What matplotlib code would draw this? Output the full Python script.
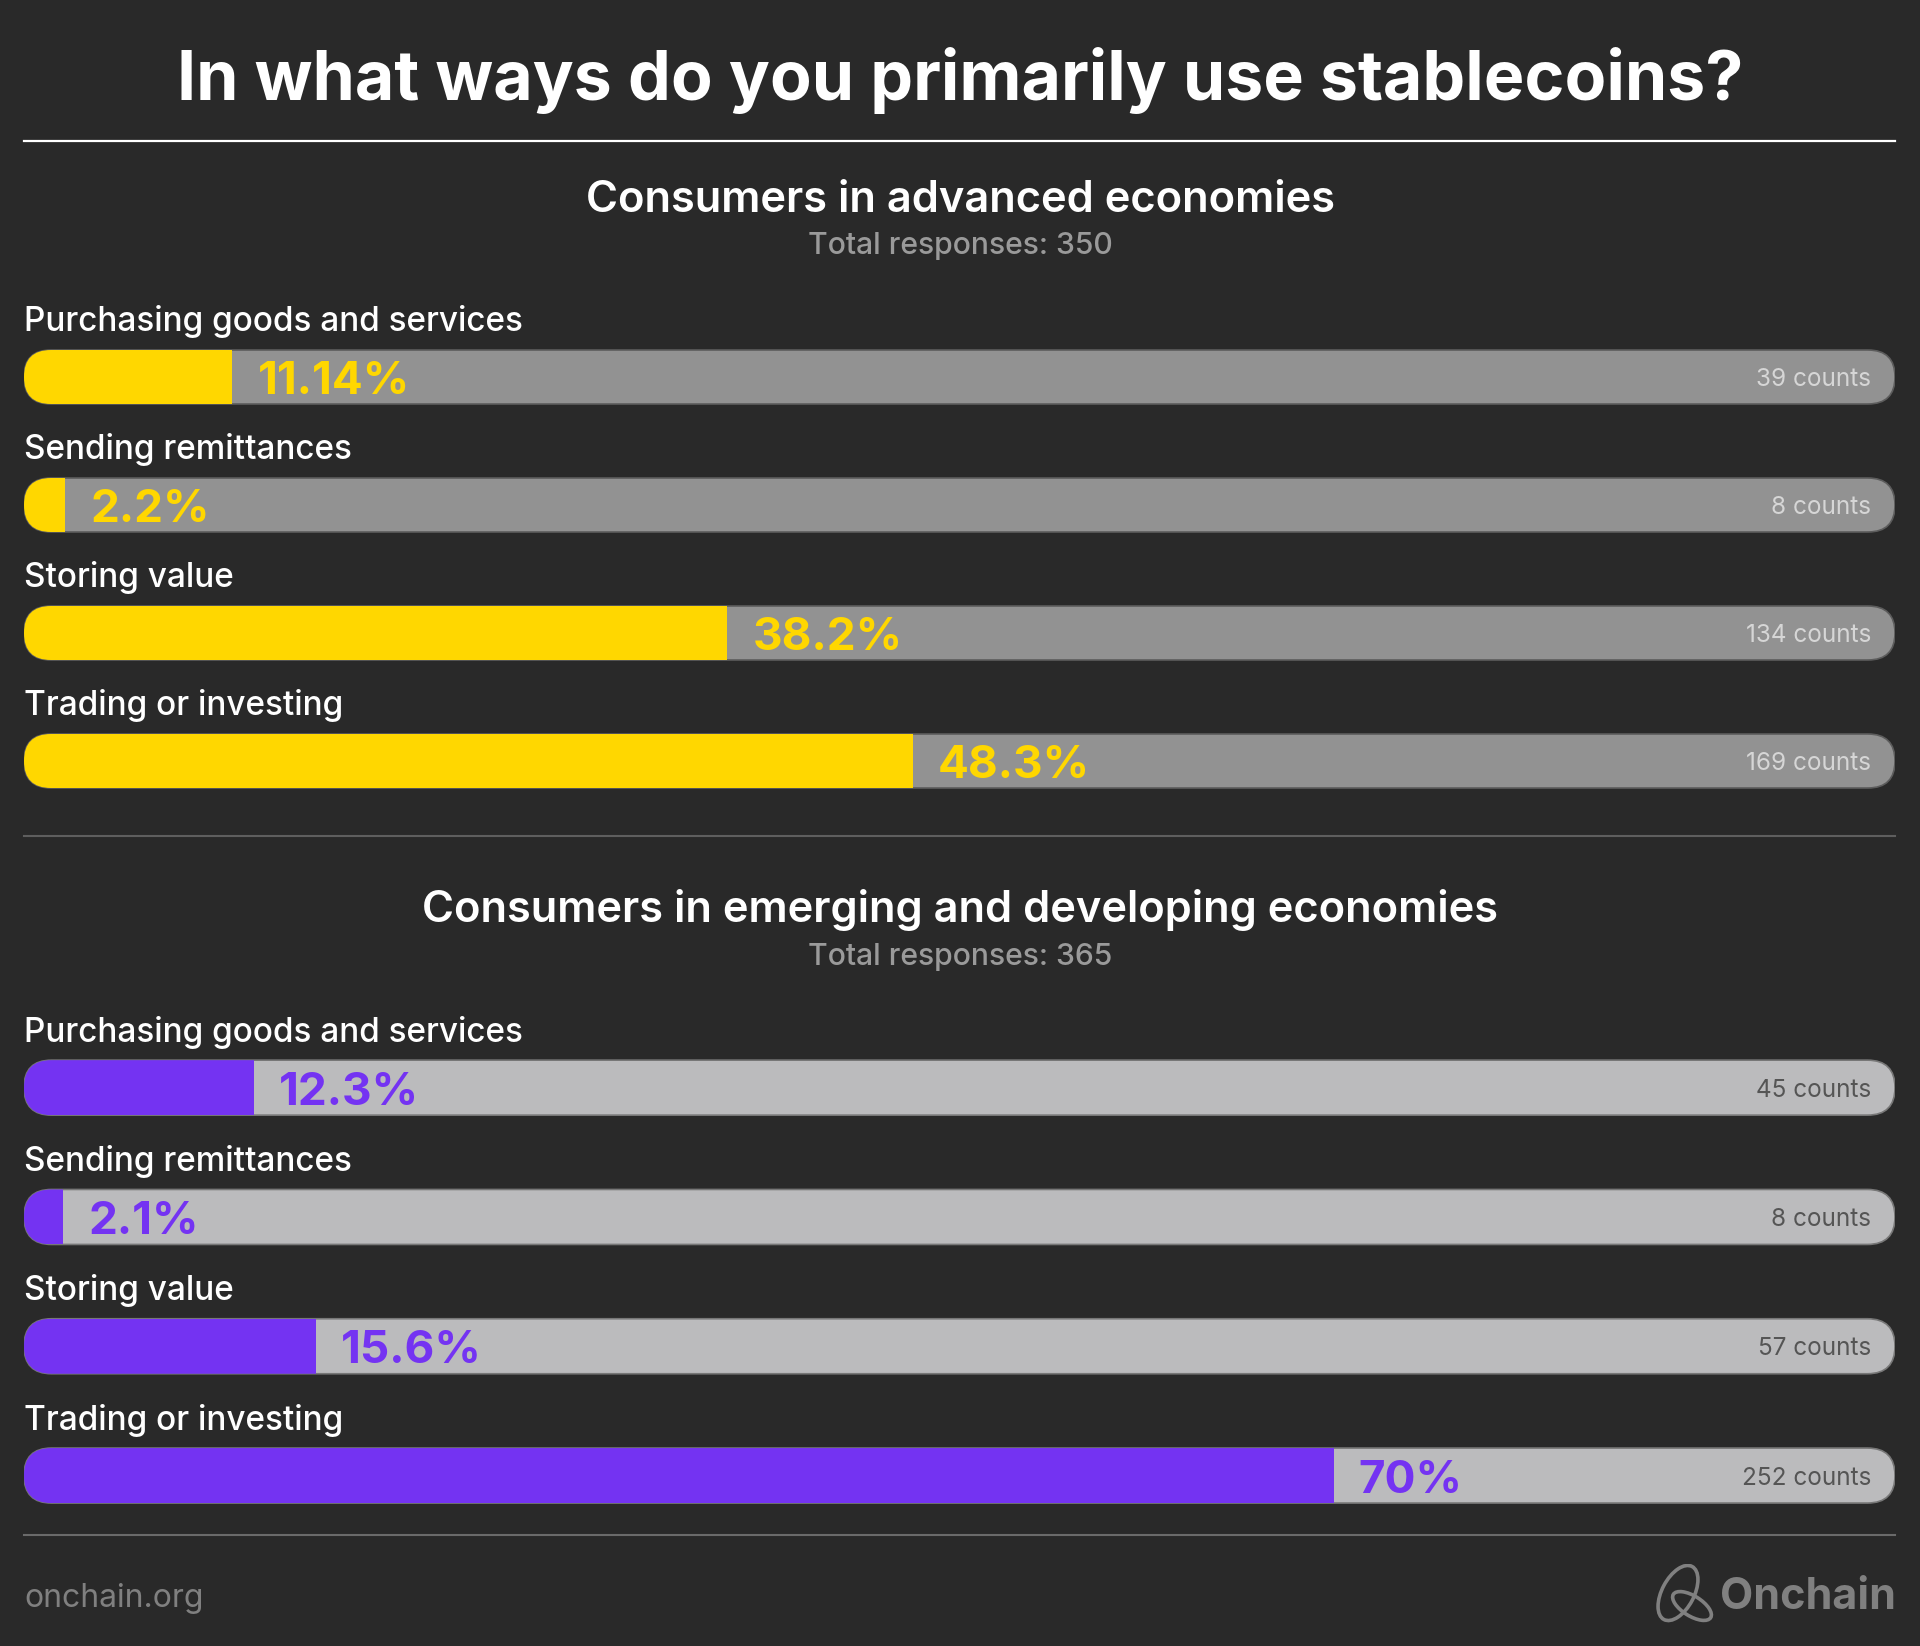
import matplotlib
matplotlib.use("Agg")
import matplotlib.pyplot as plt
from matplotlib.patches import FancyBboxPatch, Ellipse
from matplotlib.lines import Line2D

# ---- data ----
categories = ["Purchasing goods and services", "Sending remittances",
              "Storing value", "Trading or investing"]

adv_pct = [11.14, 2.2, 38.2, 48.3]          # printed labels
adv_bar = [11.14, 2.2, 37.6, 47.5]          # bar length as drawn (% of track)
adv_counts = [39, 8, 134, 169]
adv_total = 350

emg_pct = [12.3, 2.1, 15.6, 70]
emg_bar = [12.3, 2.1, 15.6, 70]
emg_counts = [45, 8, 57, 252]
emg_total = 365

BG = "#292929"
W, H = 1920, 1646
FONT = "Inter"

plt.rcParams["font.family"] = [FONT, "DejaVu Sans"]
fig = plt.figure(figsize=(W / 100, H / 100), dpi=100, facecolor=BG)


def fx(x):
    return x / W


def fy(y):
    return 1 - y / H


def hline(y, color, lw):
    fig.add_artist(Line2D([fx(24), fx(1895)], [fy(y), fy(y)], color=color, lw=lw,
                          transform=fig.transFigure))


def section(top, step, bar_h, pct, bars, counts, fill_c, track_c, edge_c, cnt_c):
    n = len(categories)
    ax = fig.add_axes([fx(24), fy(top + step * n), fx(1871), step * n / H])
    ax.set_xlim(0, 100)
    ax.set_ylim(n - 0.5, -0.5)
    ax.axis("off")
    h = bar_h / step
    px_x = 1871 / 100.0
    r_x = (bar_h / 2) / px_x
    aspect = (bar_h / 2 / step) / r_x
    for i, lab in enumerate(categories):
        track = FancyBboxPatch((0, i - h / 2), 100, h,
                               boxstyle=f"round,pad=0,rounding_size={r_x}",
                               mutation_aspect=aspect, fc=track_c, ec=edge_c,
                               lw=1.2, zorder=1)
        ax.add_patch(track)
        b = ax.barh(i, bars[i], height=h, left=0, color=fill_c, zorder=2)
        for rect in b:
            rect.set_clip_path(track)
        ax.text(0, i - 46 / step, lab, color="white", fontsize=24,
                fontweight="medium", ha="left", va="baseline", clip_on=False)
        ax.annotate(f"{pct[i]:g}%", xy=(bars[i], i), xytext=(25, -17),
                    textcoords="offset pixels", color=fill_c, fontsize=33,
                    fontweight="bold", ha="left", va="baseline", zorder=3)
        ax.annotate(f"{counts[i]} counts", xy=(100, i), xytext=(-24, -9),
                    textcoords="offset pixels", color=cnt_c, fontsize=17.5,
                    ha="right", va="baseline", zorder=3)


# title
fig.text(0.5, fy(100), "In what ways do you primarily use stablecoins?",
         color="white", fontsize=49, fontweight="bold", ha="center", va="baseline")
hline(141, "white", 1.6)

# section 1
fig.text(0.5, fy(212), "Consumers in advanced economies", color="white",
         fontsize=31.3, fontweight="semibold", ha="center", va="baseline")
fig.text(0.5, fy(254), f"Total responses: {adv_total}", color="#9a9a9a",
         fontsize=21.7, fontweight="medium", ha="center", va="baseline")
section(313, 128, 54, adv_pct, adv_bar, adv_counts,
        "#FFD700", "#929292", "#5c5c5c", "#d6d6d6")

hline(836, "#5e5e5e", 1.5)

# section 2
fig.text(0.5, fy(922), "Consumers in emerging and developing economies", color="white",
         fontsize=31.3, fontweight="semibold", ha="center", va="baseline")
fig.text(0.5, fy(965), f"Total responses: {emg_total}", color="#9a9a9a",
         fontsize=21.7, fontweight="medium", ha="center", va="baseline")
section(1023, 129.3, 55, emg_pct, emg_bar, emg_counts,
        "#7433F2", "#bbbbbd", "#777777", "#555555")

hline(1535, "#6a6a6a", 1.5)

# footer
fig.text(fx(24), fy(1607), "onchain.org", color="#808080", fontsize=23,
         ha="left", va="baseline")
fig.text(fx(1896), fy(1609), "Onchain", color="#808080", fontsize=31,
         fontweight="bold", ha="right", va="baseline")
lax = fig.add_axes([fx(1650), fy(1626), fx(70), 62 / H])
lax.set_xlim(0, 70)
lax.set_ylim(0, 62)
lax.axis("off")
lax.add_patch(Ellipse((28, 33), 60, 32, angle=62, fill=False, ec="#808080", lw=2.6))
lax.add_patch(Ellipse((42, 20), 44, 20, angle=-32, fill=False, ec="#808080", lw=2.6))

fig.savefig("out.png", dpi=100, facecolor=BG)
